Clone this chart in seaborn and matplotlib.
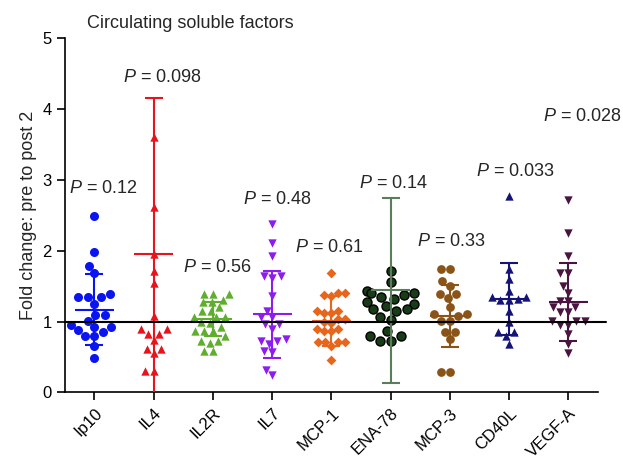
import numpy as np
import pandas as pd
import matplotlib
matplotlib.use('Agg')
import matplotlib.pyplot as plt
import seaborn as sns

sns.set_style('ticks')
plt.rcParams['font.family'] = ['Liberation Sans', 'DejaVu Sans']
plt.rcParams['mathtext.fontset'] = 'custom'
plt.rcParams['mathtext.rm'] = 'Liberation Sans'
plt.rcParams['mathtext.it'] = 'Liberation Sans:italic'

# 데이터
cats = ['Ip10', 'IL4', 'IL2R', 'IL7', 'MCP-1', 'ENA-78', 'MCP-3', 'CD40L', 'VEGF-A']

ip10 = [2.49, 1.98, 1.78, 1.68, 1.39, 1.34, 1.34, 1.34, 1.25, 1.09, 1.09, 1.01,
        0.95, 0.92, 0.92, 0.88, 0.85, 0.79, 0.79, 0.65, 0.48]
il4 = [3.61, 2.62, 1.95, 1.72, 1.54, 1.08, 0.89, 0.89, 0.83, 0.83, 0.74, 0.62,
       0.62, 0.55, 0.30, 0.30]
il2r = [1.39, 1.39, 1.39, 1.30, 1.27, 1.27, 1.20, 1.15, 1.15, 1.06, 1.06, 1.06,
        1.00, 0.98, 0.92, 0.87, 0.87, 0.87, 0.80, 0.73, 0.73, 0.70, 0.59, 0.59]
il7 = [2.37, 2.11, 1.92, 1.64, 1.64, 1.62, 1.36, 1.15, 1.06, 1.06, 0.96, 0.96,
       0.89, 0.75, 0.72, 0.72, 0.68, 0.59, 0.57, 0.32, 0.24]
mcp1 = [1.69, 1.41, 1.41, 1.38, 1.36, 1.15, 1.15, 1.12, 1.12, 1.03, 1.03, 1.00,
        0.98, 0.89, 0.89, 0.86, 0.86, 0.71, 0.71, 0.71, 0.71, 0.66, 0.46]
ena78 = [1.72, 1.56, 1.43, 1.41, 1.41, 1.38, 1.35, 1.32, 1.28, 1.25, 1.22, 1.18,
         1.18, 1.15, 1.07, 1.02, 0.87, 0.79, 0.79, 0.73, 0.73]
mcp3 = [1.74, 1.74, 1.57, 1.50, 1.39, 1.39, 1.33, 1.21, 1.10, 1.10, 1.08, 1.01,
        1.01, 0.85, 0.85, 0.75, 0.29, 0.29]
cd40l = [2.77, 1.74, 1.60, 1.43, 1.34, 1.34, 1.32, 1.30, 1.30, 1.15, 0.99, 0.85,
         0.85, 0.80, 0.69]
vegfa = [2.72, 2.25, 1.92, 1.69, 1.69, 1.50, 1.41, 1.29, 1.29, 1.20, 1.20, 1.13,
         1.13, 1.01, 1.01, 1.01, 0.95, 0.95, 0.82, 0.68, 0.55]
values = [ip10, il4, il2r, il7, mcp1, ena78, mcp3, cd40l, vegfa]

# 평균 ± SD (그림의 오차 막대)
means = [1.17, 1.95, 1.03, 1.10, 1.01, 1.44, 1.08, 1.32, 1.28]
sds = [0.50, 2.21, 0.24, 0.62, 0.35, 1.30, 0.44, 0.51, 0.55]

p_labels = ['0.12', '0.098', '0.56', '0.48', '0.61', '0.14', '0.33', '0.033', '0.028']
p_x = [0.15, 0.14, 0.07, 0.09, -0.03, 0.04, 0.03, 0.11, 0.23]
p_y = [2.88, 4.45, 1.76, 2.72, 2.05, 2.95, 2.13, 3.12, 3.89]

colors = ['#0a14f0', '#e8141c', '#5fae2e', '#8c1cf0', '#e8661c', '#183c18',
          '#8a5418', '#141478', '#4a1440']
bar_colors = ['#0a14f0', '#e8141c', '#5fae2e', '#8c1cf0', '#e8661c', '#5b7d5b',
              '#8a5418', '#141478', '#4a1440']
markers = ['o', '^', '^', 'v', 'D', 'o', 'o', '^', 'v']
sizes = [6.5, 6, 6, 6, 5, 6.5, 6.3, 6, 6]

fig = plt.figure(figsize=(6.23, 4.59), dpi=100)
ax = fig.add_axes([0.104, 0.145, 0.856, 0.772])

for i, cat in enumerate(cats):
    d = pd.DataFrame({'cat': cat, 'val': values[i]})
    sns.swarmplot(data=d, x='cat', y='val', order=cats, color=colors[i],
                  marker=markers[i], size=sizes[i], ax=ax,
                  edgecolor='black' if cat == 'ENA-78' else colors[i],
                  linewidth=1 if cat == 'ENA-78' else 0, zorder=3)

pos = np.arange(len(cats))
for i in range(len(cats)):
    ax.errorbar(pos[i], means[i], yerr=sds[i], color=bar_colors[i], capsize=6.5,
                elinewidth=1.5, capthick=1.5, fmt='none', zorder=4)
    ax.hlines(means[i], pos[i] - 0.33, pos[i] + 0.33, color=bar_colors[i],
              linewidth=1.5, zorder=4)

ax.axhline(1, xmin=0, xmax=1.015, color='black', linewidth=1.5, zorder=5, clip_on=False)

for i in range(len(cats)):
    ax.text(pos[i] + p_x[i], p_y[i], r'$\it{P}$ = ' + p_labels[i], ha='center',
            va='center', fontsize=13)

ax.set_xlim(-0.5, 8.5)
ax.set_ylim(0, 5)
ax.set_yticks([0, 1, 2, 3, 4, 5])
ax.set_xlabel('')
ax.set_ylabel('Fold change: pre to post 2', fontsize=13)
ax.set_xticks(pos)
ax.set_xticklabels(cats, rotation=45, ha='right', rotation_mode='anchor')
ax.tick_params(axis='both', labelsize=12, length=6, width=1.2, colors='black')
for s in ['left', 'bottom']:
    ax.spines[s].set_linewidth(1.2)
    ax.spines[s].set_color('black')
sns.despine(ax=ax)
fig.text(0.14, 0.948, 'Circulating soluble factors', fontsize=13, va='center')

plt.savefig('out.png', dpi=100)
plt.close()
